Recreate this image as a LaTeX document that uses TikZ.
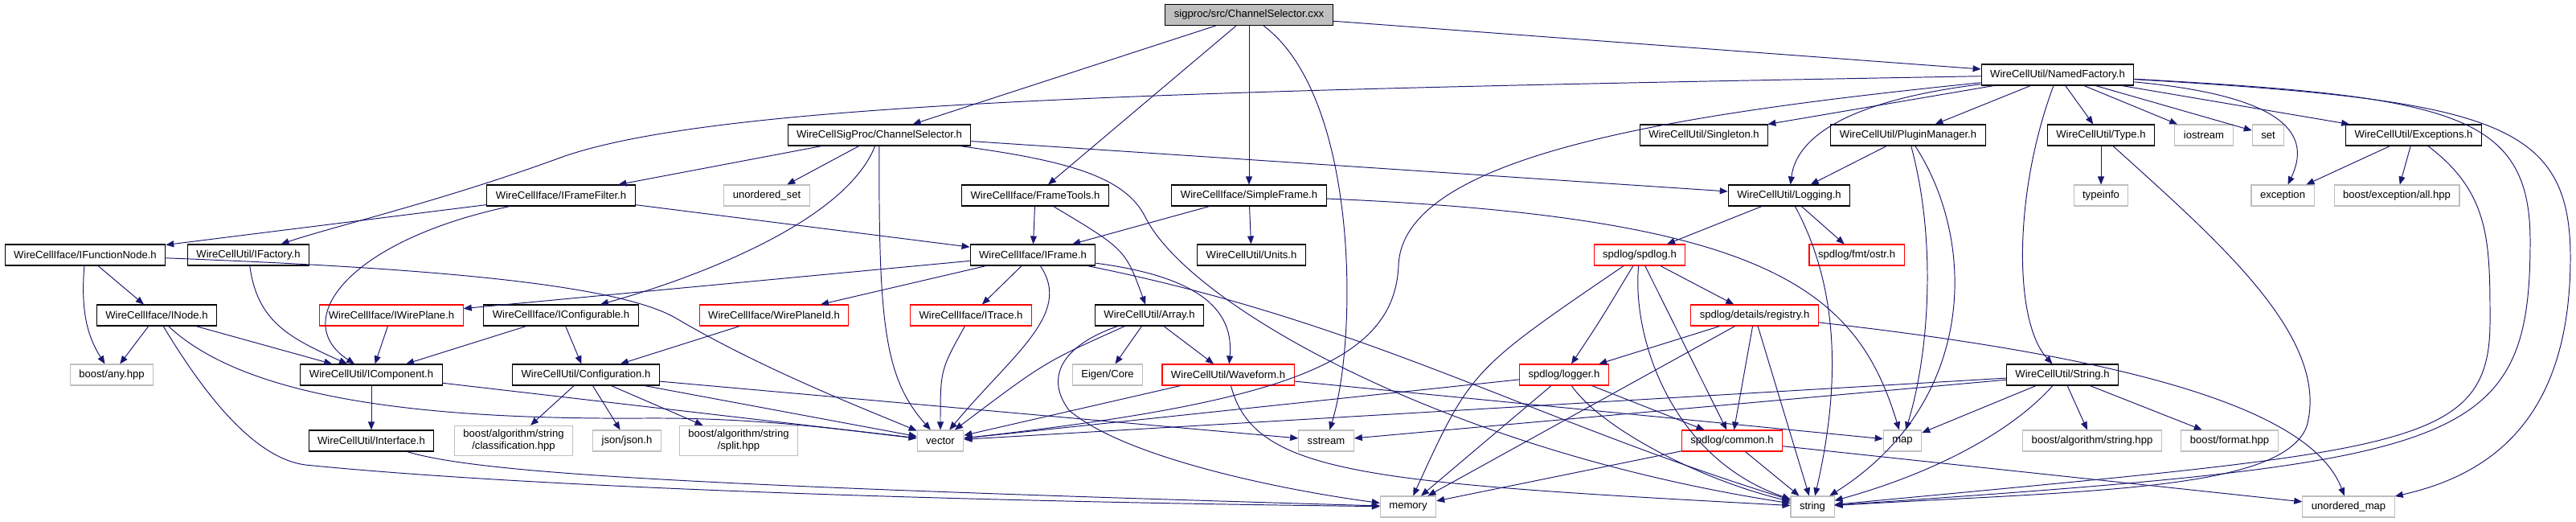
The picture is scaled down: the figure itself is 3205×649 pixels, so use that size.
\documentclass[tikz,border=0pt]{standalone}
\usepackage{fontspec}
\setmainfont{Liberation Sans}
\usepackage{tikz}
\usetikzlibrary{arrows.meta}
\definecolor{depblue}{HTML}{191970}
\definecolor{extgray}{HTML}{BFBFBF}
\definecolor{rootfill}{HTML}{BFBFBF}
\definecolor{badred}{HTML}{FF0000}

\begin{document}
\begin{tikzpicture}[x=0.02cm,y=0.02cm,>={Triangle[length=0.2cm,width=0.16cm]},
  hdr/.style={draw=black,line width=0.6pt,inner xsep=0.22cm,inner ysep=0.1cm,
    minimum height=0.52cm,align=center,font=\fontsize{7.45}{8.6}\selectfont},
  bad/.style={hdr,draw=badred},
  ext/.style={hdr,draw=extgray},
  src/.style={hdr,fill=rootfill},
  dep/.style={->,draw=depblue,line width=0.55pt}]
\useasboundingbox (0,0) rectangle (3205,-649);

% row 0 and 1
\node[src] (cxx) at (1554,-18.5) {sigproc/src/ChannelSelector.cxx};
\node[hdr] (named) at (2560,-93) {WireCellUtil/NamedFactory.h};

% row 2
\node[hdr] (chsel) at (1094,-168) {WireCellSigProc/ChannelSelector.h};
\node[hdr] (singleton) at (2120,-168) {WireCellUtil/Singleton.h};
\node[hdr] (plugin) at (2374,-168) {WireCellUtil/PluginManager.h};
\node[hdr] (type) at (2614,-168) {WireCellUtil/Type.h};
\node[ext] (iostream) at (2742,-168) {iostream};
\node[ext] (set) at (2822,-168) {set};
\node[hdr] (except) at (3003,-168) {WireCellUtil/Exceptions.h};

% row 3
\node[hdr] (framefilter) at (698,-243) {WireCellIface/IFrameFilter.h};
\node[ext] (uset) at (954,-243) {unordered\_set};
\node[hdr] (frametools) at (1288,-243) {WireCellIface/FrameTools.h};
\node[hdr] (simpleframe) at (1554,-243) {WireCellIface/SimpleFrame.h};
\node[hdr] (logging) at (2226,-243) {WireCellUtil/Logging.h};
\node[ext] (typeinfo) at (2614,-243) {typeinfo};
\node[ext] (exception) at (2840,-243) {exception};
\node[ext] (boostexc) at (2982,-243) {boost/exception/all.hpp};

% row 4
\node[hdr] (funcnode) at (106,-317) {WireCellIface/IFunctionNode.h};
\node[hdr] (ifactory) at (309,-317) {WireCellUtil/IFactory.h};
\node[hdr] (iframe) at (1285,-317) {WireCellIface/IFrame.h};
\node[hdr] (units) at (1557,-317) {WireCellUtil/Units.h};
\node[bad] (spdlog) at (2040,-317) {spdlog/spdlog.h};
\node[bad] (ostr) at (2310,-317) {spdlog/fmt/ostr.h};

% row 5
\node[hdr] (inode) at (195,-392) {WireCellIface/INode.h};
\node[bad] (wireplane) at (487,-392) {WireCellIface/IWirePlane.h};
\node[hdr] (configurable) at (698,-392) {WireCellIface/IConfigurable.h};
\node[bad] (wpid) at (963,-392) {WireCellIface/WirePlaneId.h};
\node[bad] (itrace) at (1208,-392) {WireCellIface/ITrace.h};
\node[hdr] (array) at (1430,-392) {WireCellUtil/Array.h};
\node[bad] (registry) at (2183,-392) {spdlog/details/registry.h};

% row 6
\node[ext] (anyhpp) at (139,-466) {boost/any.hpp};
\node[hdr] (component) at (462,-466) {WireCellUtil/IComponent.h};
\node[hdr] (configuration) at (729,-466) {WireCellUtil/Configuration.h};
\node[ext] (eigen) at (1378,-466) {Eigen/Core};
\node[bad] (waveform) at (1528,-466) {WireCellUtil/Waveform.h};
\node[bad] (logger) at (1946,-466) {spdlog/logger.h};
\node[hdr] (stringh) at (2566,-466) {WireCellUtil/String.h};

% row 7
\node[hdr] (interface) at (462,-548) {WireCellUtil/Interface.h};
\node[ext] (classif) at (639,-548) {boost/algorithm/string\\/classification.hpp};
\node[ext] (json) at (780,-548) {json/json.h};
\node[ext] (split) at (919,-548) {boost/algorithm/string\\/split.hpp};
\node[ext] (vector) at (1170,-548) {vector};
\node[ext] (sstream) at (1650,-548) {sstream};
\node[bad] (common) at (2155,-548) {spdlog/common.h};
\node[ext] (map) at (2367,-548) {map};
\node[ext] (bstring) at (2603,-548) {boost/algorithm/string.hpp};
\node[ext] (format) at (2774,-548) {boost/format.hpp};

% row 8
\node[ext] (memory) at (1752,-630) {memory};
\node[ext] (string) at (2255,-630) {string};
\node[ext] (umap) at (2922,-630) {unordered\_map};

% source file
\draw[dep] (cxx) -- (chsel);
\draw[dep] (cxx) -- (frametools);
\draw[dep] (cxx) -- (simpleframe);
\draw[dep] (cxx) -- (named);
\draw[dep] (cxx) .. controls (1690,-120) and (1690,-420) .. (sstream);

% NamedFactory.h
\draw[dep] (named) .. controls (1500,-112) and (900,-125) .. (700,-195)
  .. controls (550,-250) and (420,-280) .. (ifactory);
\draw[dep] (named) -- (singleton);
\draw[dep] (named) -- (plugin);
\draw[dep] (named) -- (type);
\draw[dep] (named) -- (iostream);
\draw[dep] (named) -- (set);
\draw[dep] (named) -- (except);
\draw[dep] (named) .. controls (2300,-125) and (2235,-170) .. (logging);
\draw[dep] (named) .. controls (2100,-140) and (1745,-190) .. (1740,-330)
  .. controls (1735,-450) and (1600,-500) .. (vector);
\draw[dep] (named) .. controls (2850,-120) and (2875,-170) .. (exception);
\draw[dep] (named) .. controls (2505,-240) and (2505,-400) .. (stringh);
\draw[dep] (named) .. controls (3050,-120) and (3148,-140) .. (3148,-300)
  .. controls (3148,-560) and (3060,-575) .. (string);
\draw[dep] (named) .. controls (3100,-125) and (3198,-150) .. (3198,-320)
  .. controls (3198,-520) and (3100,-590) .. (umap);

% Exceptions.h, Type.h, PluginManager.h
\draw[dep] (except) -- (exception);
\draw[dep] (except) -- (boostexc);
\draw[dep] (except) .. controls (3098,-240) and (3098,-300) .. (3098,-400)
  .. controls (3098,-560) and (2990,-560) .. (string);
\draw[dep] (type) -- (typeinfo);
\draw[dep] (type) .. controls (2760,-300) and (2900,-420) .. (2870,-530)
  .. controls (2840,-610) and (2600,-610) .. (string);
\draw[dep] (plugin) -- (logging);
\draw[dep] (plugin) .. controls (2410,-300) and (2400,-440) .. (map);
\draw[dep] (plugin) .. controls (2460,-300) and (2460,-500) .. (string);

% ChannelSelector.h
\draw[dep] (chsel) -- (framefilter);
\draw[dep] (chsel) -- (uset);
\draw[dep] (chsel) .. controls (1050,-280) and (850,-350) .. (configurable);
\draw[dep] (chsel) .. controls (1093,-400) and (1100,-470) .. (vector);
\draw[dep] (chsel) -- (logging);
\draw[dep] (chsel) .. controls (1330,-200) and (1400,-220) .. (1425,-270)
  .. controls (1480,-380) and (1800,-560) .. (string);

% IFrameFilter.h, IFunctionNode.h, IFactory.h, INode.h
\draw[dep] (framefilter) -- (funcnode);
\draw[dep] (framefilter) -- (iframe);
\draw[dep] (framefilter) .. controls (430,-300) and (360,-400) .. (component);
\draw[dep] (funcnode) -- (inode);
\draw[dep] (funcnode) .. controls (100,-390) and (110,-420) .. (anyhpp);
\draw[dep] (funcnode) .. controls (500,-332) and (760,-350) .. (840,-395)
  .. controls (950,-460) and (1080,-510) .. (vector);
\draw[dep] (ifactory) .. controls (320,-400) and (360,-420) .. (component);
\draw[dep] (inode) -- (anyhpp);
\draw[dep] (inode) -- (component);
\draw[dep] (inode) .. controls (300,-490) and (500,-522) .. (800,-520)
  .. controls (950,-519) and (1050,-535) .. (vector);
\draw[dep] (inode) .. controls (260,-500) and (320,-570) .. (380,-578)
  .. controls (700,-610) and (1300,-625) .. (memory);

% IWirePlane.h, IConfigurable.h, WirePlaneId.h, IComponent.h
\draw[dep] (wireplane) -- (component);
\draw[dep] (configurable) -- (component);
\draw[dep] (configurable) -- (configuration);
\draw[dep] (wpid) -- (configuration);
\draw[dep] (component) -- (interface);
\draw[dep] (component) -- (vector);
\draw[dep] (interface) .. controls (600,-590) and (900,-605) .. (memory);
\draw[dep] (configuration) -- (classif);
\draw[dep] (configuration) -- (json);
\draw[dep] (configuration) -- (split);
\draw[dep] (configuration) -- (vector);
\draw[dep] (configuration) -- (sstream);

% IFrame.h, FrameTools.h, SimpleFrame.h
\draw[dep] (iframe) -- (wireplane);
\draw[dep] (iframe) -- (wpid);
\draw[dep] (iframe) -- (itrace);
\draw[dep] (iframe) .. controls (1335,-390) and (1260,-440) .. (vector);
\draw[dep] (iframe) .. controls (1500,-345) and (1535,-390) .. (waveform);
\draw[dep] (iframe) .. controls (1700,-400) and (1900,-520) .. (string);
\draw[dep] (frametools) -- (iframe);
\draw[dep] (frametools) .. controls (1400,-310) .. (array);
\draw[dep] (simpleframe) -- (iframe);
\draw[dep] (simpleframe) -- (units);
\draw[dep] (simpleframe) .. controls (2200,-270) and (2310,-360) .. (map);

% Array.h, Waveform.h, ITrace.h
\draw[dep] (array) -- (eigen);
\draw[dep] (array) -- (waveform);
\draw[dep] (array) .. controls (1300,-450) .. (vector);
\draw[dep] (array) .. controls (1320,-430) and (1300,-470) .. (1330,-510)
  .. controls (1400,-570) and (1600,-610) .. (memory);
\draw[dep] (waveform) -- (vector);
\draw[dep] (waveform) -- (map);
\draw[dep] (waveform) .. controls (1560,-590) and (1700,-600) .. (string);
\draw[dep] (itrace) .. controls (1170,-460) .. (vector);

% Logging.h and spdlog
\draw[dep] (logging) -- (spdlog);
\draw[dep] (logging) -- (ostr);
\draw[dep] (logging) .. controls (2295,-370) and (2285,-500) .. (string);
\draw[dep] (spdlog) -- (registry);
\draw[dep] (spdlog) .. controls (1990,-400) .. (logger);
\draw[dep] (spdlog) .. controls (1830,-460) .. (memory);
\draw[dep] (spdlog) .. controls (2030,-420) and (2080,-570) .. (string);
\draw[dep] (spdlog) -- (common);
\draw[dep] (registry) -- (logger);
\draw[dep] (registry) -- (memory);
\draw[dep] (registry) -- (common);
\draw[dep] (registry) -- (string);
\draw[dep] (registry) .. controls (2700,-450) and (2880,-520) .. (umap);
\draw[dep] (logger) -- (vector);
\draw[dep] (logger) -- (memory);
\draw[dep] (logger) .. controls (1990,-530) and (2110,-595) .. (string);
\draw[dep] (logger) -- (common);
\draw[dep] (common) -- (memory);
\draw[dep] (common) -- (string);
\draw[dep] (common) -- (umap);

% String.h
\draw[dep] (stringh) -- (vector);
\draw[dep] (stringh) -- (sstream);
\draw[dep] (stringh) -- (map);
\draw[dep] (stringh) .. controls (2500,-540) and (2400,-590) .. (string);
\draw[dep] (stringh) -- (bstring);
\draw[dep] (stringh) -- (format);
\end{tikzpicture}
\end{document}
